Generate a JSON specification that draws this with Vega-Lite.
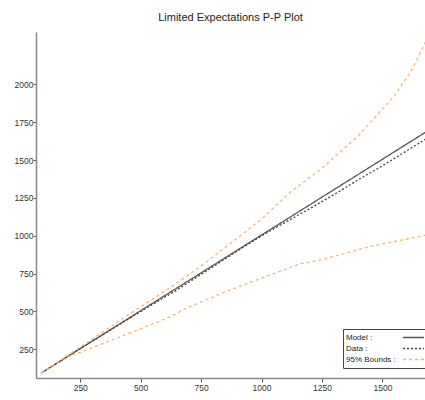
{
  "$schema": "https://vega.github.io/schema/vega-lite/v6.json",
  "width": 389,
  "height": 346,
  "autosize": "none",
  "padding": {"left": 36, "top": 32, "right": 0, "bottom": 22},
  "background": "white",
  "title": {"text": "Limited Expectations P-P Plot", "fontSize": 11, "font": "Liberation Sans", "fontWeight": "normal", "color": "#222", "anchor": "middle", "offset": 9},
  "config": {"view": {"stroke": null}},
  "data": {"values": [
    {"series": "Model :", "curve": "m", "x": 90, "y": 95},
    {"series": "Model :", "curve": "m", "x": 1700, "y": 1705},
    {"series": "Data :", "curve": "d", "x": 90, "y": 95},
    {"series": "Data :", "curve": "d", "x": 250, "y": 255},
    {"series": "Data :", "curve": "d", "x": 500, "y": 500},
    {"series": "Data :", "curve": "d", "x": 650, "y": 642},
    {"series": "Data :", "curve": "d", "x": 750, "y": 745},
    {"series": "Data :", "curve": "d", "x": 900, "y": 900},
    {"series": "Data :", "curve": "d", "x": 1000, "y": 1000},
    {"series": "Data :", "curve": "d", "x": 1100, "y": 1090},
    {"series": "Data :", "curve": "d", "x": 1200, "y": 1180},
    {"series": "Data :", "curve": "d", "x": 1300, "y": 1272},
    {"series": "Data :", "curve": "d", "x": 1400, "y": 1370},
    {"series": "Data :", "curve": "d", "x": 1500, "y": 1462},
    {"series": "Data :", "curve": "d", "x": 1600, "y": 1560},
    {"series": "Data :", "curve": "d", "x": 1700, "y": 1660},
    {"series": "95% Bounds :", "curve": "u", "x": 90, "y": 95},
    {"series": "95% Bounds :", "curve": "u", "x": 200, "y": 212},
    {"series": "95% Bounds :", "curve": "u", "x": 330, "y": 350},
    {"series": "95% Bounds :", "curve": "u", "x": 450, "y": 480},
    {"series": "95% Bounds :", "curve": "u", "x": 620, "y": 655},
    {"series": "95% Bounds :", "curve": "u", "x": 750, "y": 800},
    {"series": "95% Bounds :", "curve": "u", "x": 900, "y": 985},
    {"series": "95% Bounds :", "curve": "u", "x": 1000, "y": 1110},
    {"series": "95% Bounds :", "curve": "u", "x": 1120, "y": 1290},
    {"series": "95% Bounds :", "curve": "u", "x": 1250, "y": 1445},
    {"series": "95% Bounds :", "curve": "u", "x": 1400, "y": 1660},
    {"series": "95% Bounds :", "curve": "u", "x": 1550, "y": 1925},
    {"series": "95% Bounds :", "curve": "u", "x": 1620, "y": 2090},
    {"series": "95% Bounds :", "curve": "u", "x": 1680, "y": 2285},
    {"series": "95% Bounds :", "curve": "u", "x": 1700, "y": 2360},
    {"series": "95% Bounds :", "curve": "l", "x": 90, "y": 95},
    {"series": "95% Bounds :", "curve": "l", "x": 195, "y": 205},
    {"series": "95% Bounds :", "curve": "l", "x": 250, "y": 230},
    {"series": "95% Bounds :", "curve": "l", "x": 410, "y": 330},
    {"series": "95% Bounds :", "curve": "l", "x": 620, "y": 463},
    {"series": "95% Bounds :", "curve": "l", "x": 690, "y": 522},
    {"series": "95% Bounds :", "curve": "l", "x": 850, "y": 630},
    {"series": "95% Bounds :", "curve": "l", "x": 1000, "y": 720},
    {"series": "95% Bounds :", "curve": "l", "x": 1160, "y": 815},
    {"series": "95% Bounds :", "curve": "l", "x": 1250, "y": 842},
    {"series": "95% Bounds :", "curve": "l", "x": 1450, "y": 930},
    {"series": "95% Bounds :", "curve": "l", "x": 1700, "y": 1010}
  ]},
  "mark": {"type": "line", "strokeWidth": 1.3, "clip": true},
  "encoding": {
    "x": {"field": "x", "type": "quantitative",
      "scale": {"domain": [67, 1676], "nice": false, "zero": false},
      "axis": {"title": null, "values": [250, 500, 750, 1000, 1250, 1500], "format": "d", "grid": false, "domainColor": "#888", "domainWidth": 1.5, "tickColor": "#555", "tickSize": 4, "labelFontSize": 8.5, "labelFont": "Liberation Sans", "labelColor": "#333", "labelPadding": 1, "labelFlush": false, "labelOverlap": false}},
    "y": {"field": "y", "type": "quantitative",
      "scale": {"domain": [61, 2345], "nice": false, "zero": false},
      "axis": {"title": null, "values": [250, 500, 750, 1000, 1250, 1500, 1750, 2000], "format": "d", "grid": false, "domainColor": "#888", "domainWidth": 1.5, "tickColor": "#555", "tickSize": 3, "labelFontSize": 8.5, "labelFont": "Liberation Sans", "labelColor": "#333", "labelPadding": 0, "labelFlush": false, "labelOverlap": false}},
    "detail": {"field": "curve"},
    "color": {"field": "series", "type": "nominal",
      "scale": {"domain": ["Model :", "Data :", "95% Bounds :"], "range": ["#555555", "#444444", "#FFB066"]},
      "legend": {"title": null, "orient": "none", "legendX": 307, "legendY": 297, "symbolType": "M-3,0H3", "symbolSize": 49, "symbolStrokeWidth": 1.3, "symbolOffset": 62, "labelOffset": -72, "labelFontSize": 8, "labelFont": "Liberation Sans", "labelColor": "#222", "strokeColor": "#444", "fillColor": "white", "padding": 4, "rowPadding": 2}},
    "strokeDash": {"field": "series", "type": "nominal",
      "scale": {"domain": ["Model :", "Data :", "95% Bounds :"], "range": [[1, 0], [2, 2], [3, 3]]},
      "legend": null}
  }
}
